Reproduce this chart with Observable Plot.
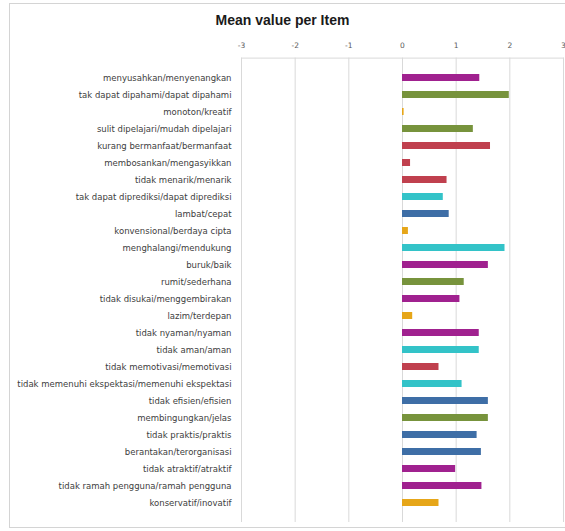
<!DOCTYPE html>
<html>
<head>
<meta charset="utf-8">
<script src="https://cdn.jsdelivr.net/npm/d3@7"></script>
<script src="https://cdn.jsdelivr.net/npm/@observablehq/plot@0.6"></script>
<style>
  html, body { margin: 0; padding: 0; background: #fff; }
  #wrap { position: relative; width: 565px; height: 531px; overflow: hidden; }
  #border { position: absolute; left: 9px; top: 3px; width: 570px; height: 525px; border: 1px solid #d4d4d4; box-sizing: border-box; }
  #title { position: absolute; left: 0; top: 0; width: 565px; height: 32px; text-align: center; font: bold 14px "Liberation Sans", Arial, sans-serif; line-height: 40px; color: #1a1a1a; }
  #chart { position: absolute; left: 0; top: 32px; }
</style>
</head>
<body>
<div id="wrap">
  <div id="border"></div>
  <div id="title">Mean value per Item</div>
  <div id="chart"></div>
</div>
<script>
const items = [
  "menyusahkan/menyenangkan",
  "tak dapat dipahami/dapat dipahami",
  "monoton/kreatif",
  "sulit dipelajari/mudah dipelajari",
  "kurang bermanfaat/bermanfaat",
  "membosankan/mengasyikkan",
  "tidak menarik/menarik",
  "tak dapat diprediksi/dapat diprediksi",
  "lambat/cepat",
  "konvensional/berdaya cipta",
  "menghalangi/mendukung",
  "buruk/baik",
  "rumit/sederhana",
  "tidak disukai/menggembirakan",
  "lazim/terdepan",
  "tidak nyaman/nyaman",
  "tidak aman/aman",
  "tidak memotivasi/memotivasi",
  "tidak memenuhi ekspektasi/memenuhi ekspektasi",
  "tidak efisien/efisien",
  "membingungkan/jelas",
  "tidak praktis/praktis",
  "berantakan/terorganisasi",
  "tidak atraktif/atraktif",
  "tidak ramah pengguna/ramah pengguna",
  "konservatif/inovatif"
];
const means = [1.44, 1.99, 0.03, 1.32, 1.64, 0.15, 0.83, 0.76, 0.87, 0.11, 1.91, 1.60, 1.15, 1.07, 0.19, 1.43, 1.43, 0.68, 1.11, 1.60, 1.60, 1.39, 1.47, 0.99, 1.48, 0.68];
const scales = ["Attractiveness","Perspicuity","Novelty","Perspicuity","Stimulation","Stimulation","Stimulation","Dependability","Efficiency","Novelty","Dependability","Attractiveness","Perspicuity","Attractiveness","Novelty","Attractiveness","Dependability","Stimulation","Dependability","Efficiency","Perspicuity","Efficiency","Efficiency","Attractiveness","Attractiveness","Novelty"];
const scaleNames = ["Attractiveness","Perspicuity","Efficiency","Dependability","Stimulation","Novelty"];
const scaleColors = ["#a0218f","#77933c","#3e6ea6","#33c3c8","#c0404e","#e6a619"];
const xTicks = [-3, -2, -1, 0, 1, 2, 3];

const data = items.map((item, i) => ({item, mean: means[i], scale: scales[i]}));

const plot = Plot.plot({
  width: 565,
  height: 499,
  marginLeft: 241,
  marginRight: 2,
  marginTop: 25.6,
  marginBottom: 9,
  style: {fontFamily: "'DejaVu Sans', sans-serif", background: "transparent", color: "#404040"},
  x: {domain: [-3, 3], ticks: xTicks, axis: null, label: null},
  y: {domain: items, paddingInner: 0.58, paddingOuter: 0.29, axis: null, label: null},
  color: {domain: scaleNames, range: scaleColors},
  marks: [
    Plot.ruleX(xTicks, {stroke: "#d9d9d9", strokeWidth: 1}),
    Plot.frame({anchor: "top", stroke: "#d9d9d9"}),
    Plot.axisX({anchor: "top", ticks: xTicks, tickSize: 0, tickPadding: 10, fontSize: 7.5, color: "#595959", label: null, tickFormat: d => String(d)}),
    Plot.barX(data, {x: "mean", y: "item", fill: "scale"}),
    Plot.axisY({tickSize: 0, tickPadding: 10, fontSize: 8.5, color: "#404040", label: null})
  ]
});
document.getElementById("chart").appendChild(plot);
</script>
</body>
</html>
